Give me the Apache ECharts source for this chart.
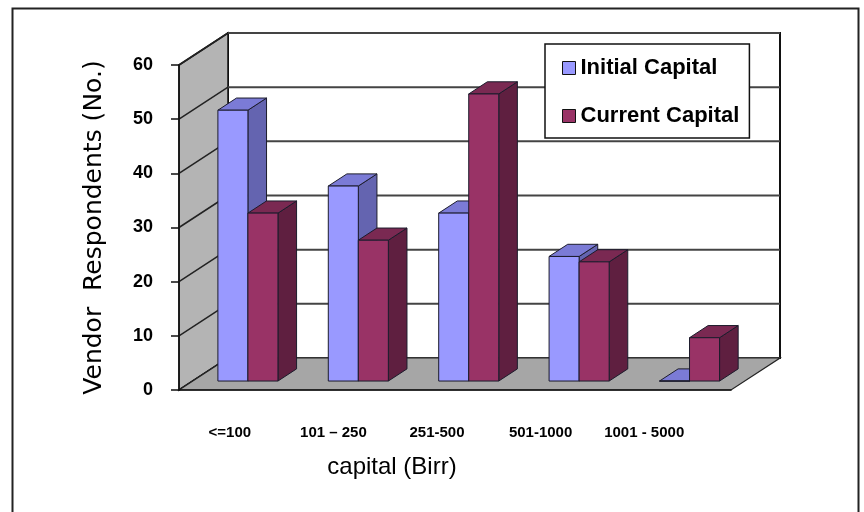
<!DOCTYPE html>
<html>
<head>
<meta charset="utf-8">
<script src="https://cdn.jsdelivr.net/npm/echarts@6/dist/echarts.min.js"></script>
<style>
html, body { margin: 0; padding: 0; background: #fff; }
#main { width: 864px; height: 512px; }
</style>
</head>
<body>
<div id="main"></div>
<script>
var categories = ['<=100', '101 \u2013 250', '251-500', '501-1000', '1001 - 5000'];
var initialCapital = [50, 36, 31, 23, 0];
var currentCapital = [31, 26, 53, 22, 8];
var yTicks = [0, 10, 20, 30, 40, 50, 60];

// fake 3d: offset of the back wall, and where bars sit in depth
var DX = 49, DY = 32;
var Z0 = 0.28, Z1 = 0.66;
var BAR = 0.272;

function shift(p, z) {
    return [p[0] + z * DX, p[1] - z * DY];
}

var renderWalls = function (params, api) {
    var cs = params.coordSys;
    var x0 = cs.x, x1 = cs.x + cs.width;
    var yb = api.coord([0, 0])[1];
    var yt = api.coord([0, 60])[1];
    var kids = [];
    kids.push({
        type: 'rect',
        shape: {x: x0 + DX, y: yt - DY, width: cs.width, height: yb - yt},
        style: {fill: '#fff', stroke: '#111', lineWidth: 2}
    });
    kids.push({
        type: 'polygon',
        shape: {points: [[x0, yt], [x0 + DX, yt - DY], [x0 + DX, yb - DY], [x0, yb]]},
        style: {fill: '#b4b4b4', stroke: '#111', lineWidth: 1.5}
    });
    yTicks.forEach(function (v) {
        var y = api.coord([0, v])[1];
        kids.push({type: 'line', shape: {x1: x0 + DX, y1: y - DY, x2: x1 + DX, y2: y - DY},
            style: {stroke: '#444', lineWidth: 2}});
        kids.push({type: 'line', shape: {x1: x0, y1: y, x2: x0 + DX, y2: y - DY},
            style: {stroke: '#222', lineWidth: 1.5}});
    });
    kids.push({
        type: 'polygon',
        shape: {points: [[x0, yb], [x1, yb], [x1 + DX, yb - DY], [x0 + DX, yb - DY]]},
        style: {fill: '#a6a6a6', stroke: '#222', lineWidth: 1.2}
    });
    return {type: 'group', children: kids};
};

var makeBars = function (slot, colors) {
    return function (params, api) {
        var cat = api.value(0), val = api.value(1);
        var base = api.coord([cat, 0]);
        var top = api.coord([cat, val]);
        var w = api.size([1, 0])[0] * BAR;
        var xl = base[0] - w + slot * w, xr = xl + w;
        var fbl = shift([xl, base[1]], Z0), fbr = shift([xr, base[1]], Z0);
        var ftl = shift([xl, top[1]], Z0), ftr = shift([xr, top[1]], Z0);
        var btl = shift([xl, top[1]], Z1), btr = shift([xr, top[1]], Z1);
        var bbr = shift([xr, base[1]], Z1);
        var edge = '#1c1c2c';
        return {
            type: 'group',
            children: [
                {type: 'polygon', shape: {points: [fbr, bbr, btr, ftr]},
                    style: {fill: colors[2], stroke: edge, lineWidth: 1}},
                {type: 'polygon', shape: {points: [ftl, ftr, btr, btl]},
                    style: {fill: colors[1], stroke: edge, lineWidth: 1}},
                {type: 'polygon', shape: {points: [fbl, fbr, ftr, ftl]},
                    style: {fill: colors[0], stroke: edge, lineWidth: 1}}
            ]
        };
    };
};

var toPairs = function (arr) {
    return arr.map(function (v, i) { return [i, v]; });
};

var chart = echarts.init(document.getElementById('main'));
var option = {
    backgroundColor: '#fff',
    animation: false,
    graphic: [{
        type: 'rect',
        left: 10, top: 6,
        shape: {width: 846, height: 520},
        style: {fill: 'none', stroke: '#222', lineWidth: 2}
    }],
    legend: {
        data: ['Initial Capital', 'Current Capital'],
        orient: 'vertical',
        left: 545, top: 44,
        icon: 'rect',
        itemWidth: 13, itemHeight: 13, itemGap: 24,
        padding: [12, 10, 10, 17],
        backgroundColor: '#fff',
        borderColor: '#111', borderWidth: 1.5,
        itemStyle: {borderColor: '#111', borderWidth: 1},
        textStyle: {fontFamily: 'Liberation Sans', fontWeight: 'bold', fontSize: 22, color: '#000', lineHeight: 24}
    },
    grid: [
        {left: 179, top: 65, width: 552, height: 325},
        {left: 178, top: 65, width: 518, height: 325}
    ],
    xAxis: [{
        type: 'category', gridIndex: 0, data: categories, z: 10,
        axisLine: {lineStyle: {color: '#111', width: 1.5}},
        axisTick: {length: 6, lineStyle: {color: '#111', width: 1.5}},
        axisLabel: {show: false}
    }, {
        type: 'category', gridIndex: 1, data: categories,
        axisLine: {show: false}, axisTick: {show: false},
        axisLabel: {interval: 0, margin: 35, fontFamily: 'Liberation Sans', fontWeight: 'bold', fontSize: 15, color: '#000'},
        name: 'capital (Birr)', nameLocation: 'middle', nameGap: 65,
        nameTextStyle: {fontFamily: 'Liberation Sans', fontSize: 24, color: '#000', padding: [0, 90, 0, 0]}
    }],
    yAxis: [{
        type: 'value', gridIndex: 0, min: 0, max: 60, interval: 10, z: 10,
        axisLine: {show: true, lineStyle: {color: '#111', width: 1.5}},
        axisTick: {show: true, length: 8, lineStyle: {color: '#111', width: 1.5}},
        splitLine: {show: false},
        axisLabel: {margin: 26, fontFamily: 'Liberation Sans', fontWeight: 'bold', fontSize: 18, color: '#000'},
        name: 'Vendor  Respondents (No.)', nameLocation: 'middle', nameRotate: 90, nameGap: 72,
        nameTextStyle: {fontFamily: 'DejaVu Sans', fontSize: 25, color: '#000'}
    }, {
        type: 'value', gridIndex: 1, min: 0, max: 60, show: false
    }],
    series: [{
        type: 'custom', name: 'walls', xAxisIndex: 0, yAxisIndex: 0, z: 1, silent: true,
        data: [[0, 0]],
        renderItem: renderWalls
    }, {
        type: 'custom', name: 'Initial Capital', xAxisIndex: 0, yAxisIndex: 0, z: 2,
        itemStyle: {color: '#9999ff'},
        data: toPairs(initialCapital),
        renderItem: makeBars(0, ['#9999ff', '#7b7bd6', '#6464b0'])
    }, {
        type: 'custom', name: 'Current Capital', xAxisIndex: 0, yAxisIndex: 0, z: 2,
        itemStyle: {color: '#993366'},
        data: toPairs(currentCapital),
        renderItem: makeBars(1, ['#993366', '#7a2952', '#5f1f40'])
    }]
};
chart.setOption(option);
</script>
</body>
</html>
